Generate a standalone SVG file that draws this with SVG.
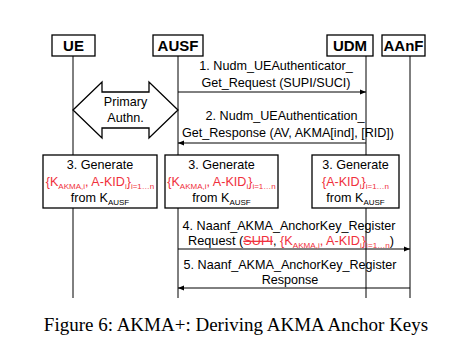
<svg xmlns="http://www.w3.org/2000/svg" width="461" height="358" viewBox="0 0 461 358">
<style>
.box{fill:#fff;stroke:#000;stroke-width:1.3}
.life{stroke:#000;stroke-width:1}
.msg{stroke:#000;stroke-width:1;fill:none}
.hd{font-family:"Liberation Sans",Arial,sans-serif;font-weight:bold;font-size:15px;text-anchor:middle}
.t{font-family:"Liberation Sans",Arial,sans-serif;font-size:12.6px;text-anchor:middle;fill:#000}
.r{fill:#f0303c}
.sub{font-size:8px}
.cap{font-family:"Liberation Serif","Times New Roman",serif;font-size:19px;text-anchor:middle}
</style>
<defs>
<marker id="ah" viewBox="0 0 10 10" refX="10" refY="5" markerWidth="6" markerHeight="6" orient="auto-start-reverse" markerUnits="userSpaceOnUse">
<path d="M0,1 L10,5 L0,9 z" fill="#000"/>
</marker>
</defs>
<g id="lifelines">
<line class="life" x1="73" y1="56" x2="73" y2="298"/>
<line class="life" x1="178" y1="56" x2="178" y2="298"/>
<line class="life" x1="366" y1="56" x2="366" y2="298"/>
<line class="life" x1="410" y1="56" x2="410" y2="298"/>
</g>
<g id="UE"><rect class="box" x="52" y="35" width="43" height="21"/><text class="hd" x="73.5" y="51">UE</text></g>
<g id="AUSF"><rect class="box" x="153" y="35" width="50" height="21"/><text class="hd" x="178" y="51">AUSF</text></g>
<g id="UDM"><rect class="box" x="327" y="35" width="46" height="21"/><text class="hd" x="350" y="51">UDM</text></g>
<g id="AAnF"><rect class="box" x="382" y="35" width="43" height="21"/><text class="hd" x="403.5" y="51">AAnF</text></g>
<g id="primary-authn">
<path class="box" d="M73,110 L102,82 L102,92 L149,92 L149,82 L178,110 L149,138 L149,128 L102,128 L102,138 Z"/>
<text class="t" x="125.5" y="106">Primary</text>
<text class="t" x="125.5" y="122">Authn.</text>
</g>
<g id="gen-ue">
<rect class="box" x="43" y="155" width="114" height="53"/>
<text class="t" x="100" y="169">3. Generate</text>
<text class="t r" x="100" y="186">{K<tspan class="sub" dy="3">AKMA,i</tspan><tspan dy="-3">, A-KID</tspan><tspan class="sub" dy="3">i</tspan><tspan dy="-3">}</tspan><tspan class="sub" dy="3">i=1…n</tspan></text>
<text class="t" x="100" y="202">from K<tspan class="sub" dy="3">AUSF</tspan></text>
</g>
<g id="gen-ausf">
<rect class="box" x="165" y="155" width="113" height="53"/>
<text class="t" x="221.5" y="169">3. Generate</text>
<text class="t r" x="221.5" y="186">{K<tspan class="sub" dy="3">AKMA,i</tspan><tspan dy="-3">, A-KID</tspan><tspan class="sub" dy="3">i</tspan><tspan dy="-3">}</tspan><tspan class="sub" dy="3">i=1…n</tspan></text>
<text class="t" x="221.5" y="202">from K<tspan class="sub" dy="3">AUSF</tspan></text>
</g>
<g id="gen-udm">
<rect class="box" x="312" y="155" width="87" height="53"/>
<text class="t" x="355.5" y="169">3. Generate</text>
<text class="t r" x="355.5" y="186">{A-KID<tspan class="sub" dy="3">i</tspan><tspan dy="-3">}</tspan><tspan class="sub" dy="3">i=1…n</tspan></text>
<text class="t" x="355.5" y="202">from K<tspan class="sub" dy="3">AUSF</tspan></text>
</g>
<g id="connectors">
<line class="msg" x1="178" y1="92" x2="366" y2="92" marker-end="url(#ah)"/>
<line class="msg" x1="366" y1="143" x2="178" y2="143" marker-end="url(#ah)"/>
<line class="msg" x1="178" y1="249" x2="410" y2="249" marker-end="url(#ah)"/>
<line class="msg" x1="410" y1="288" x2="178" y2="288" marker-end="url(#ah)"/>
</g>
<g id="labels">
<text class="t" x="276" y="70">1. Nudm_UEAuthenticator_</text>
<text class="t" x="276" y="87">Get_Request (SUPI/SUCI)</text>
<text class="t" x="285" y="120">2. Nudm_UEAuthentication_</text>
<text class="t" x="288" y="137">Get_Response (AV, AKMA[ind], [RID])</text>
<text class="t" x="289" y="230">4. Naanf_AKMA_AnchorKey_Register</text>
<text class="t" x="188" y="245" style="text-anchor:start" textLength="206" lengthAdjust="spacingAndGlyphs">Request (<tspan class="r" text-decoration="line-through">SUPI</tspan>, <tspan class="r">{K<tspan class="sub" dy="3">AKMA,i</tspan><tspan dy="-3">, A-KID</tspan><tspan class="sub" dy="3">i</tspan><tspan dy="-3">}</tspan><tspan class="sub" dy="3">i=1…n</tspan></tspan><tspan dy="-3">)</tspan></text>
<text class="t" x="290" y="269">5. Naanf_AKMA_AnchorKey_Register</text>
<text class="t" x="290" y="284">Response</text>
</g>
<text class="cap" x="236" y="331">Figure 6: AKMA+: Deriving AKMA Anchor Keys</text>
</svg>
